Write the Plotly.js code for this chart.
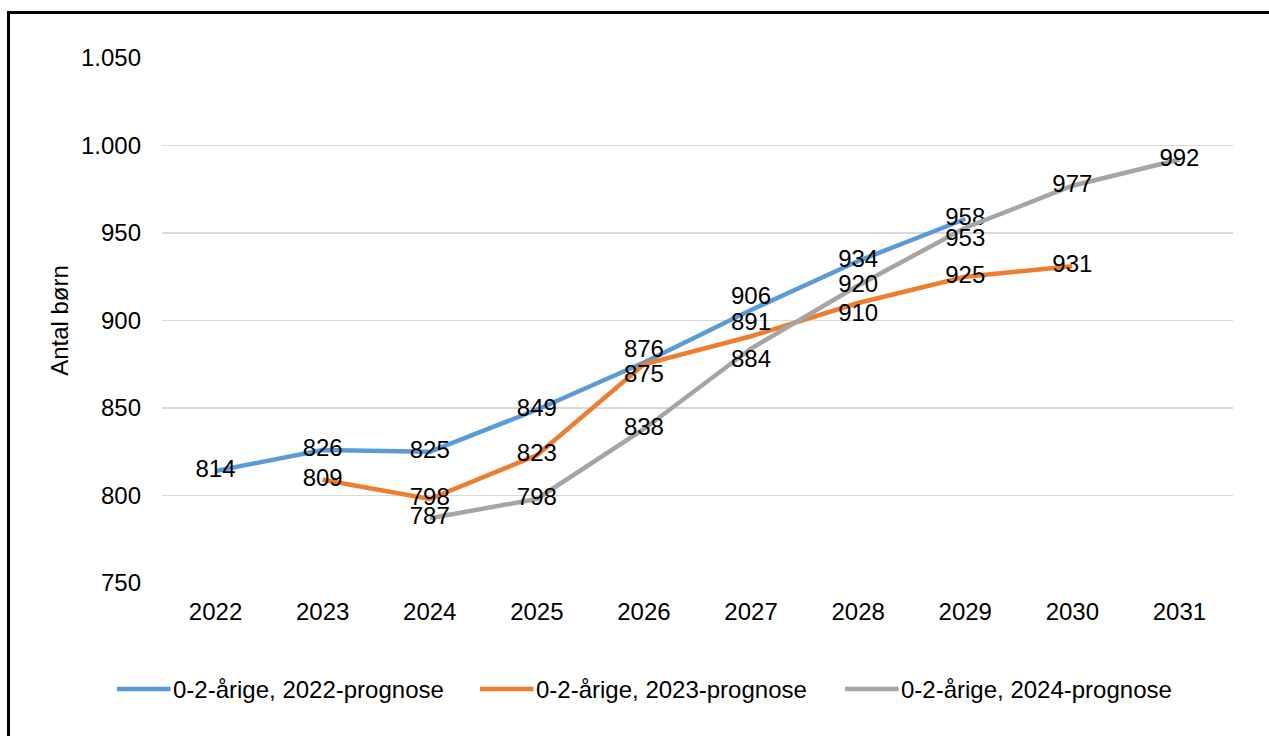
<!DOCTYPE html>
<html><head><meta charset="utf-8">
<script src="https://cdn.plot.ly/plotly-3.0.1.min.js"></script>
<style>
html,body{margin:0;padding:0;overflow:hidden;background:#fff}
#chart{position:absolute;left:0;top:0;width:1269px;height:736px}
#frame{position:absolute;left:7px;top:11px;width:1400px;height:900px;border-left:3px solid #000;border-top:3px solid #000;pointer-events:none}
</style></head><body>
<div id="chart"></div><div id="frame"></div>
<script>
// ---- data ----
const years = ['2022','2023','2024','2025','2026','2027','2028','2029','2030','2031'];
const seriesNames = ['0-2-årige, 2022-prognose','0-2-årige, 2023-prognose','0-2-årige, 2024-prognose'];
const prog2022 = [814, 826, 825, 849, 876, 906, 934, 958, null, null];
const prog2023 = [null, 809, 798, 823, 875, 891, 910, 925, 931, null];
const prog2024 = [null, null, 787, 798, 838, 884, 920, 953, 977, 992];
const yTickVals = [750, 800, 850, 900, 950, 1000, 1050];

// ---- style ----
const colors = ['#5B9BD5', '#ED7D31', '#A5A5A5'];
const M = 'middle center', T = 'top center', B = 'bottom center';
const labelPos = [
  [M, M, M, M, T, T, M, M, M, M],
  [M, M, M, M, B, T, B, M, M, M],
  [M, M, M, M, M, B, M, B, M, M]
];
const FONT = 'Liberation Sans, Arial, sans-serif';
const FS = 24;

const seriesVals = [prog2022, prog2023, prog2024];
const traces = seriesVals.map((vals, i) => ({
  type: 'scatter',
  mode: 'lines+text',
  x: years,
  y: vals,
  name: seriesNames[i],
  text: vals.map(v => v === null ? '' : String(v)),
  textposition: labelPos[i],
  textfont: {family: FONT, size: FS, color: '#000'},
  line: {color: colors[i], width: 4.5},
  cliponaxis: false,
  showlegend: false,
  hoverinfo: 'x+y+name'
}));

// custom legend (long line samples like the original)
const legX = [-0.042, 0.2969, 0.6377];
const legLen = 0.05;
const legY = -0.202;
const shapes = [], annotations = [];
seriesNames.forEach((n, i) => {
  shapes.push({type: 'line', xref: 'paper', yref: 'paper', x0: legX[i], x1: legX[i] + legLen,
    y0: legY, y1: legY, line: {color: colors[i], width: 4.5}});
  annotations.push({xref: 'paper', yref: 'paper', x: legX[i] + legLen, y: legY, xanchor: 'left', yanchor: 'middle',
    text: n, showarrow: false, font: {family: FONT, size: FS, color: '#000'}});
});

const layout = {
  width: 1269, height: 736,
  margin: {l: 162, r: 36, t: 58, b: 153},
  paper_bgcolor: '#fff', plot_bgcolor: '#fff',
  separators: ',.',
  font: {family: FONT, size: FS, color: '#000'},
  showlegend: false,
  xaxis: {
    type: 'category', categoryorder: 'array', categoryarray: years,
    showgrid: false, zeroline: false, showline: false, ticks: '',
    tickfont: {family: FONT, size: FS, color: '#000'},
    ticklabelstandoff: 12
  },
  yaxis: {
    range: [750, 1050], tickvals: yTickVals, tickformat: ',d',
    showgrid: true, gridcolor: '#D9D9D9', gridwidth: 1.5,
    zeroline: false, showline: false, ticks: '',
    tickfont: {family: FONT, size: FS, color: '#000'},
    ticklabelstandoff: 20,
    title: {text: 'Antal børn', font: {family: FONT, size: FS, color: '#000'}, standoff: 5}
  },
  shapes: shapes,
  annotations: annotations
};

Plotly.newPlot('chart', traces, layout, {displayModeBar: false, staticPlot: true});
</script>
</body></html>
